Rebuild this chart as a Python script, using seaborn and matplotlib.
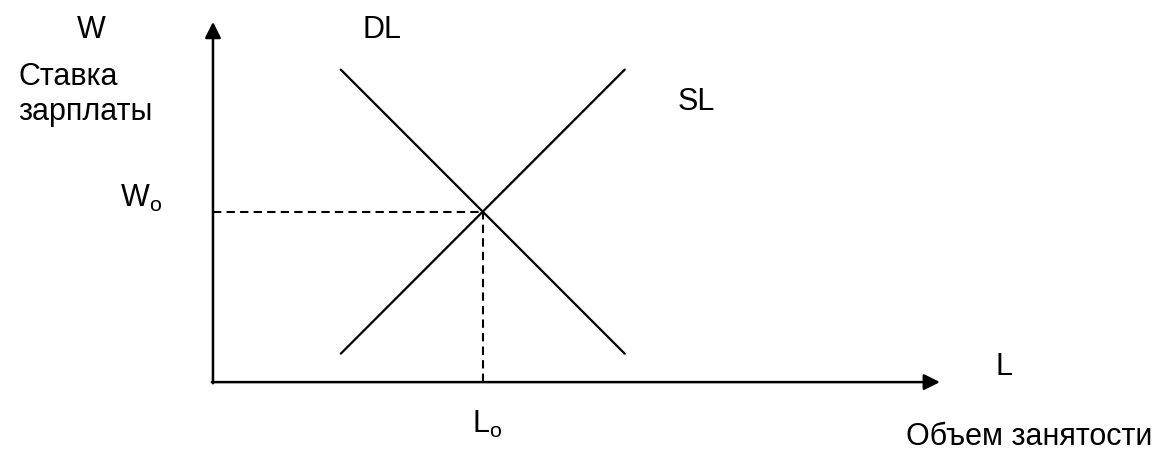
import matplotlib
matplotlib.use("Agg")
import matplotlib.pyplot as plt
import pandas as pd
import seaborn as sns

# Curves (L = employment, W = wage)
dl_L = [4.5, 14.5]
dl_W = [11.0, 1.0]
sl_L = [4.5, 14.5]
sl_W = [1.0, 11.0]
# Equilibrium
L0 = 9.5
W0 = 6.0
# Axis extents
L_max = 25.6
W_max = 12.68

sns.set_style("white")
plt.rcParams["font.family"] = ["Liberation Sans", "DejaVu Sans"]
plt.rcParams["mathtext.fontset"] = "custom"
plt.rcParams["mathtext.rm"] = "Liberation Sans"
plt.rcParams["text.color"] = "black"

fig = plt.figure(figsize=(11.62, 4.5), dpi=100)
ax = fig.add_axes([0, 0, 1, 1])

df = pd.DataFrame({
    "L": dl_L + sl_L,
    "W": dl_W + sl_W,
    "curve": ["DL"] * len(dl_L) + ["SL"] * len(sl_L),
})
sns.lineplot(data=df, x="L", y="W", units="curve", estimator=None,
             color="black", lw=1.6, ax=ax, legend=False)

# Dashed guides to the equilibrium
ax.plot([0, L0], [W0, W0], color="black", lw=1.5, dashes=(4, 2.5))
ax.plot([L0, L0], [0, W0], color="black", lw=1.5, dashes=(4, 2.5))

# Axes with arrows
arrow = dict(arrowstyle="-|>", lw=1.8, color="black", mutation_scale=24,
             shrinkA=0, shrinkB=0)
ax.annotate("", xy=(0, W_max), xytext=(0, -0.04), arrowprops=arrow)
ax.annotate("", xy=(L_max, 0), xytext=(-0.04, 0), arrowprops=arrow)

fs = 22
lbl = dict(fontsize=fs, ha="left", va="baseline", color="black")
ax.text(-4.79, 12.11, "W", **lbl)
ax.text(-6.85, 10.46, "Ставка", **lbl)
ax.text(-6.85, 9.23, "зарплаты", **lbl)
ax.text(5.25, 12.11, "DL", **lbl)
ax.text(16.37, 9.58, "SL", **lbl)
ax.text(-3.27, 6.16, r"W$_\mathrm{o}$", **lbl)
ax.text(27.54, 0.25, "L", **lbl)
ax.text(9.12, -1.79, r"L$_\mathrm{o}$", **lbl)
ax.text(24.4, -2.2, "Объем занятости", **lbl)

ax.set_xlim(-7.5, 33.42)
ax.set_ylim(-2.39, 13.45)
ax.set_axis_off()

fig.savefig("out.png", dpi=100)
